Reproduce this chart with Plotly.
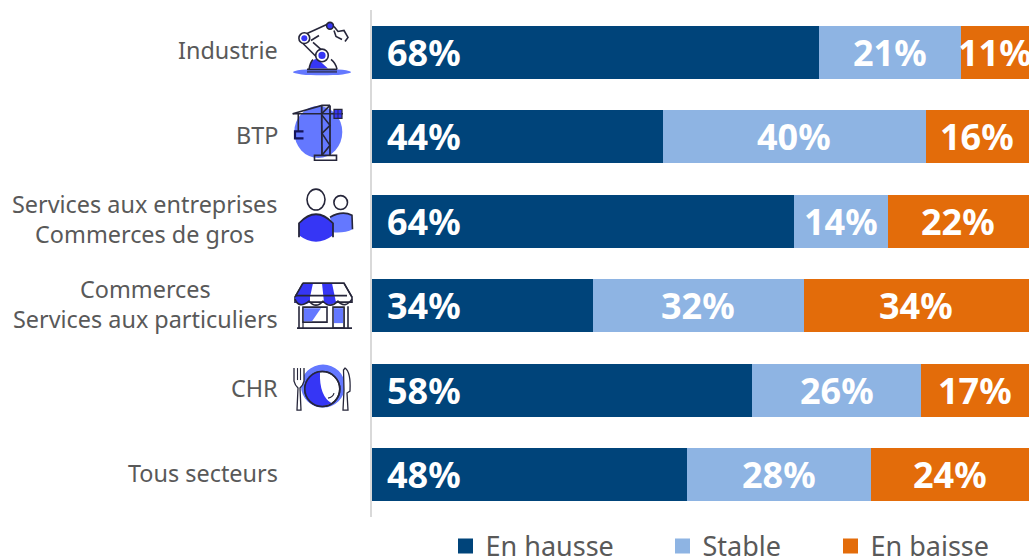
import plotly.graph_objects as go

categories = ["Industrie", "BTP", "Services aux entreprises<br>Commerces de gros",
              "Commerces<br>Services aux particuliers", "CHR", "Tous secteurs"]
hausse = [68.0, 44.3, 64.2, 33.6, 57.9, 47.9]
stable = [21.6, 40.0, 14.3, 32.1, 25.7, 28.0]
baisse = [10.4, 15.7, 21.5, 34.3, 16.4, 24.1]
hausse_labels = ["68%", "44%", "64%", "34%", "58%", "48%"]
stable_labels = ["21%", "40%", "14%", "32%", "26%", "28%"]
baisse_labels = ["11%", "16%", "22%", "34%", "17%", "24%"]
series_names = ["En hausse", "Stable", "En baisse"]
series_colors = ["#00447A", "#8EB4E3", "#E36C0A"]
legend_ids = ["legend", "legend2", "legend3"]
legend_left = [445.5, 662.5, 830.5]

W, H = 1029, 560
L, R, T, B = 372, 1029, 9.5, 517.1
FONT = "Noto Sans"
GREY = "#595959"
DARK = "#26263A"
BLUE = "#3636F5"
MID = "#6478FF"


def px(x):
    return (x - L) / (R - L)


def py(y):
    return 1 - (y - T) / (B - T)


shapes = []


def path(points, fill=None, line=DARK, width=1.6, closed=False):
    cmds = []
    for p in points:
        if isinstance(p, str):
            cmds.append(p)
        else:
            cmds.append(f"{px(p[0]):.5f},{py(p[1]):.5f}")
    s = ""
    i = 0
    first = True
    while i < len(cmds):
        c = cmds[i]
        if c == "Q":
            s += f" Q{cmds[i+1]} {cmds[i+2]}"
            i += 3
        else:
            s += (" M" if first else " L") + c
            first = False
            i += 1
    if closed:
        s += " Z"
    shapes.append(dict(type="path", xref="paper", yref="paper", path=s.strip(),
                       fillcolor=fill or "rgba(0,0,0,0)",
                       line=dict(color=line if width else "rgba(0,0,0,0)", width=width)))


def ellipse(cx, cy, rx, ry, fill="rgba(0,0,0,0)", line=DARK, width=1.6):
    shapes.append(dict(type="circle", xref="paper", yref="paper",
                       x0=px(cx - rx), x1=px(cx + rx), y0=py(cy + ry), y1=py(cy - ry),
                       fillcolor=fill,
                       line=dict(color=line if width else "rgba(0,0,0,0)", width=width)))


# Robot arm icon
ellipse(322, 71.7, 29, 3.2, fill=MID, width=0)
path([(309, 68), "Q", (310, 60), (317, 58), (328, 68)], fill=BLUE, width=0, closed=True)
path([(309, 69), "Q", (310, 62), (313, 59)])
path([(331, 59), "Q", (336, 63), (337, 69)])
path([(307, 69), (337, 69)], width=1.8)
path([(307, 71.5), (337, 71.5)], line=DARK, width=1.2)
path([(307, 33), (329, 23)])
path([(311, 40), (319, 35)])
path([(302, 42), (316, 56)])
path([(313, 42), (322, 50)])
ellipse(304.3, 37.7, 5.4, 5.4, fill="#FFFFFF")
ellipse(304.3, 37.7, 3, 3, fill=BLUE, width=0)
ellipse(322, 55, 6.3, 6.3, fill="#FFFFFF")
ellipse(322, 55, 3.6, 3.6, fill=BLUE, width=0)
ellipse(330, 25.3, 3.4, 3.4, fill=BLUE)
path([(334, 26), (338, 31), (344, 30), (348, 37), (345, 41)])
path([(334, 30), (336, 36), (342, 39)])

# Crane icon
ellipse(318.3, 131.7, 24, 26, fill=MID, width=0)
path([(292.7, 113.3), (343, 113.3)])
path([(292.7, 113.3), (322, 105), (330, 105)])
path([(321.7, 105), (322, 155)], width=1.8)
path([(330, 105), (330, 155)], width=1.8)
path([(330, 105), (322, 113)])
path([(322, 115), (330, 125), (322, 133), (330, 145), (322, 155)], width=1.6)
path([(298.3, 113.3), (298.3, 131)])
path([(303.5, 138), (295, 138), (295, 131), (303.5, 131)], line="#14145A", width=2.2)
path([(314.5, 155), (336.5, 155), (336.5, 160), (314.5, 160)], closed=True)
path([(334, 109), (342, 109), (342, 118), (334, 118)], fill=BLUE, closed=True, width=1.2)
path([(338, 109), (338, 118)], width=0.8)
path([(334, 113.5), (342, 113.5)], width=0.8)

# People icon
ellipse(340.7, 202.3, 6.8, 7, fill="#FFFFFF")
path([(330, 217), "Q", (342, 210), (352, 215), (352.5, 229), "Q", (345, 233), (333, 232)],
     fill=MID, closed=True, width=0)
path([(330, 217), "Q", (342, 210), (352, 215), (352.5, 229)])
ellipse(316, 199.3, 9, 10.5, fill="#FFFFFF")
path([(299, 223), "Q", (316, 205), (333, 223), (333, 235), "Q", (316, 248), (299, 235)],
     fill=BLUE, closed=True, width=0)
path([(299, 237), (299, 223), "Q", (316, 205), (333, 223), (333, 237)], width=1.8)

# Shop icon
path([(303, 283), (344, 283), (352, 297), (352, 302), (295, 302), (295, 297)], fill="#FFFFFF", closed=True)
path([(303, 283), (313, 283), (310, 297), (310, 302), "Q", (302, 307), (295, 302), (295, 297)],
     fill=BLUE, closed=True, width=0)
path([(322, 283), (332, 283), (336, 302), "Q", (328, 307), (324, 302)], fill=BLUE, closed=True, width=0)
path([(303, 283), (344, 283), (352, 297)])
path([(303, 283), (295, 297)])
path([(295, 295.5), (347, 295.5)], width=1.8)
path([(295, 299), "Q", (299, 309), (309, 301), "Q", (316, 309), (323, 301),
      "Q", (330, 309), (338, 301), "Q", (345, 309), (352, 299)])
path([(299, 306), (299, 328)], width=1.6)
path([(348, 306), (348, 328)], width=1.6)
path([(303, 307), (303, 328)], width=1.2)
path([(344, 307), (344, 328)], width=1.2)
path([(303, 307), (327, 307), (327, 322), (303, 322)], fill="#FFFFFF", closed=True)
path([(304, 308), (321, 308), (312, 321), (304, 321)], fill=MID, closed=True, width=0)
path([(333, 307), (344, 307), (344, 328), (333, 328)], fill="#FFFFFF", closed=True)
path([(334, 308), (343, 308), (343, 323), (334, 323)], fill=MID, closed=True, width=0)
path([(297, 328), (352, 328)], width=1.8)

# Plate icon
ellipse(323, 386, 22, 21.5, fill=MID, width=0)
ellipse(322.3, 389, 17.5, 17.5, fill="#FFFFFF")
path([(320, 371.6), "Q", (319, 396), (332, 403.5), (322, 406.5), "Q", (304.8, 406), (304.8, 389),
      "Q", (305, 372), (320, 371.6)], fill=BLUE, closed=True, width=0)
ellipse(322.3, 389, 17.5, 17.5)
path([(328, 398), "Q", (333, 397), (334, 393)], width=1.2)
path([(294, 368), (294, 381), "Q", (295, 385), (298, 388), (297, 410), (301, 410), (300, 388),
      "Q", (303, 385), (304, 381), (304, 368)], fill="#FFFFFF", width=1.3)
path([(297.5, 368), (297.5, 380)], width=1.1)
path([(300.5, 368), (300.5, 380)], width=1.1)
path([(345, 368), "Q", (351, 372), (350, 391), (347, 393), (348, 410), (343, 410), (344, 390), (343.5, 370)],
     fill="#FFFFFF", closed=True, width=1.3)

fig = go.Figure()
for name, color, values in zip(series_names, series_colors, [hausse, stable, baisse]):
    fig.add_trace(go.Bar(y=categories, x=values, name=name, orientation="h",
                         marker=dict(color=color, line=dict(width=0)), showlegend=False))
for name, color, lg in zip(series_names, series_colors, legend_ids):
    fig.add_trace(go.Scatter(x=[None], y=[None], mode="markers", name=name, legend=lg, showlegend=True,
                             marker=dict(symbol="square", size=15, color=color)))

annotations = []
for i, cat in enumerate(categories):
    annotations.append(dict(xref="paper", yref="y", x=0, y=i, xshift=-92, yshift=2, xanchor="right",
                            text=cat, showarrow=False, align="center",
                            font=dict(family=FONT, size=23.4, color=GREY)))
    h, s, b = hausse[i], stable[i], baisse[i]
    for x, label, anchor, shift in [(0, hausse_labels[i], "left", 13),
                                    (h + s / 2, stable_labels[i], "center", 0),
                                    (h + s + b / 2, baisse_labels[i], "center", 0)]:
        annotations.append(dict(xref="x", yref="y", x=x, y=i, xanchor=anchor, xshift=shift,
                                text=f"<b>{label}</b>", showarrow=False,
                                font=dict(family=FONT, size=36, color="#FFFFFF")))

legends = {}
for lg, left in zip(legend_ids, legend_left):
    legends[lg] = dict(orientation="h", x=px(left), xanchor="left", y=py(522), yanchor="top",
                       font=dict(family=FONT, size=27, color=GREY),
                       itemclick=False, itemdoubleclick=False, bgcolor="rgba(0,0,0,0)")

fig.update_layout(
    width=W, height=H, barmode="stack", bargap=0.373,
    margin=dict(l=L, r=W - R, t=T, b=H - B, autoexpand=False),
    paper_bgcolor="#FFFFFF", plot_bgcolor="#FFFFFF",
    font=dict(family=FONT, color=GREY),
    shapes=shapes, annotations=annotations,
    xaxis=dict(range=[0, 100], visible=False, fixedrange=True),
    yaxis=dict(autorange="reversed", showticklabels=False, ticks="", showgrid=False,
               zeroline=False, showline=True, linecolor="#D9D9D9", linewidth=2, fixedrange=True),
    **legends,
)
fig.write_html("out.html", config={"displayModeBar": False},
               post_script="document.body.style.margin='0';")
